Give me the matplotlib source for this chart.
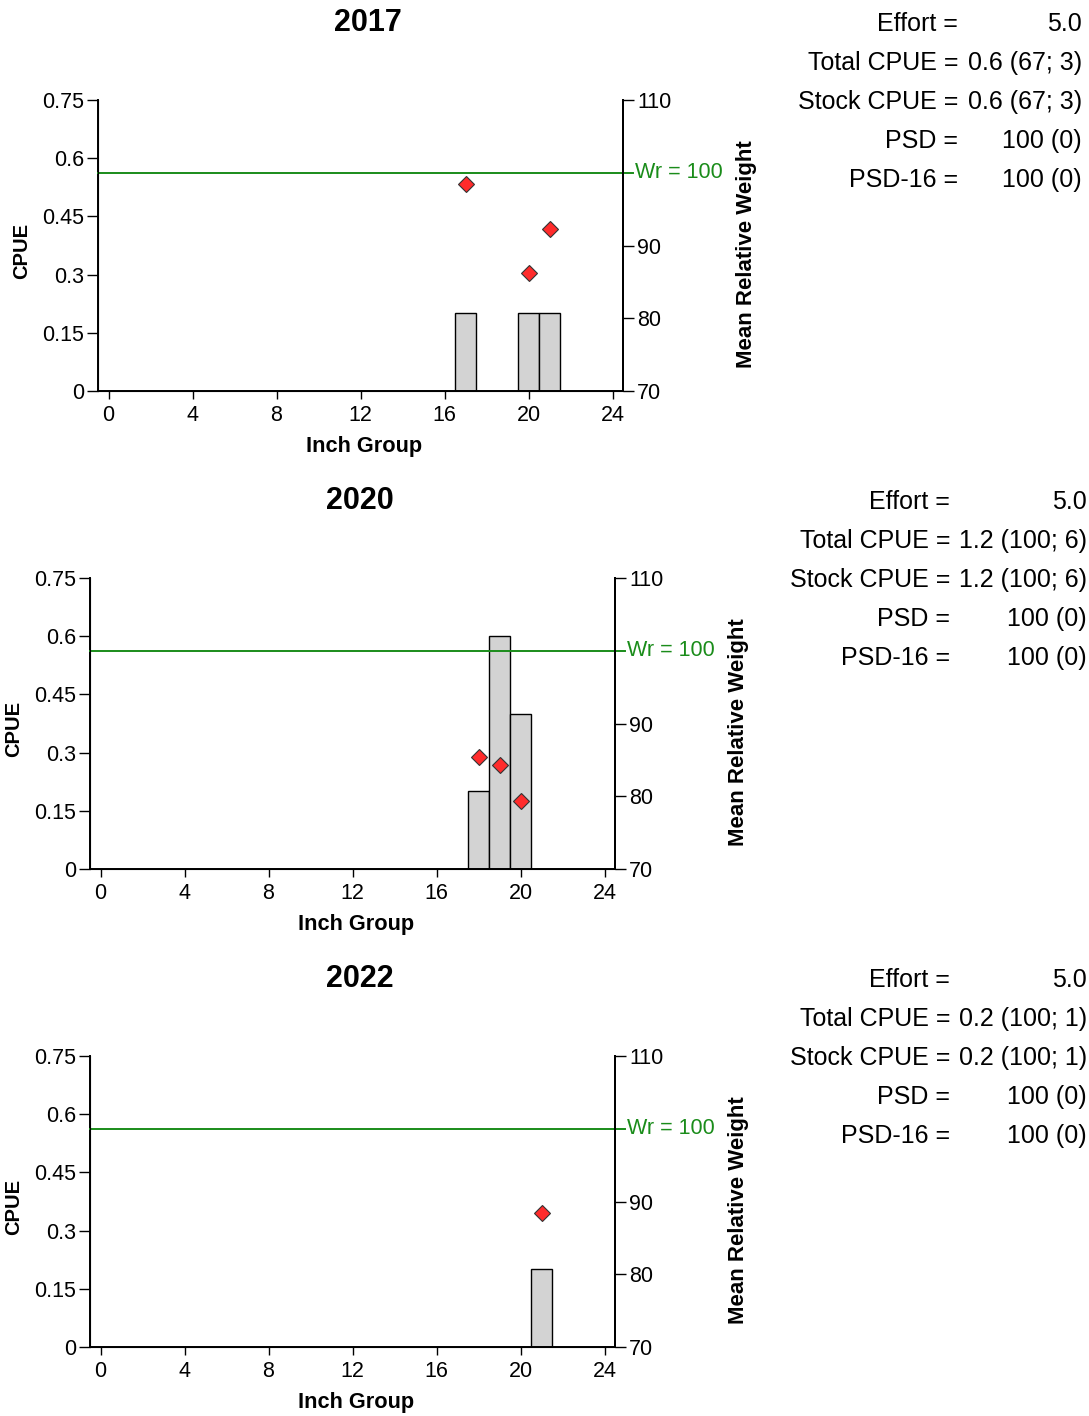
import matplotlib.pyplot as plt

plt.rcParams['font.family'] = ['Liberation Sans', 'DejaVu Sans']

# data
years = ["2017", "2020", "2022"]
bar_inch = [[17, 20, 21], [18, 19, 20], [21]]
bar_cpue = [[0.2, 0.2, 0.2], [0.2, 0.6, 0.4], [0.2]]
wr_inch = [[17, 20, 21], [18, 19, 20], [21]]
wr_mean = [[98.5, 86.2, 92.3], [85.4, 84.3, 79.3], [88.4]]

stat_labels = ["Effort =", "Total CPUE =", "Stock CPUE =", "PSD =", "PSD-16 ="]
stat_values = [
    ["5.0", "0.6 (67; 3)", "0.6 (67; 3)", "100 (0)", "100 (0)"],
    ["5.0", "1.2 (100; 6)", "1.2 (100; 6)", "100 (0)", "100 (0)"],
    ["5.0", "0.2 (100; 1)", "0.2 (100; 1)", "100 (0)", "100 (0)"],
]

cpue_ticks = [0, 0.15, 0.3, 0.45, 0.6, 0.75]
cpue_ticklabels = ["0", "0.15", "0.3", "0.45", "0.6", "0.75"]
wr_ticks = [70, 80, 90, 110]
inch_ticks = [0, 4, 8, 12, 16, 20, 24]
wr_target = 100

W, H = 1089, 1416
fig = plt.figure(figsize=(W / 100, H / 100), dpi=100)

# pixel layout for each panel: axes left, top; title; stats columns
panel_left = [98, 90, 90]
panel_top = [100, 578, 1056]
title_x = [368, 360, 360]
title_y = [23, 501, 979]
lab_x = [958, 950, 950]
val_x = [1082, 1087, 1087]
ax_w, ax_h = 525, 291
green = '#1a8c1a'

for i, yr in enumerate(years):
    left = panel_left[i] / W
    bottom = 1 - (panel_top[i] + ax_h) / H
    ax = fig.add_axes([left, bottom, ax_w / W, ax_h / H])
    ax.bar(bar_inch[i], bar_cpue[i], width=1.0, color='#d3d3d3',
           edgecolor='black', linewidth=1.0, zorder=2)
    ax.set_xlim(-0.5, 24.5)
    ax.set_ylim(0, 0.75)
    ax.set_xticks(inch_ticks)
    ax.set_yticks(cpue_ticks)
    ax.set_yticklabels(cpue_ticklabels)
    ax.spines['top'].set_visible(False)
    for s in ['left', 'bottom', 'right']:
        ax.spines[s].set_linewidth(1.4)
    ax.tick_params(axis='y', length=8, width=1, labelsize=15.5, pad=2)
    ax.tick_params(axis='x', length=6, width=1, labelsize=15.5, pad=4)
    ax.set_xlabel("Inch Group", fontsize=15.7, fontweight='bold')
    ax.xaxis.set_label_coords(0.507, -0.155)
    ax.set_ylabel("CPUE", fontsize=14.5, fontweight='bold')
    ax.yaxis.set_label_coords(-0.128, 0.482)

    ax2 = ax.twinx()
    ax2.set_ylim(70, 110)
    ax2.set_yticks(wr_ticks)
    ax2.spines['top'].set_visible(False)
    ax2.spines['right'].set_linewidth(1.4)
    ax2.tick_params(axis='y', length=8, width=1, labelsize=15.5, pad=2)
    ax2.set_ylabel("Mean Relative Weight", fontsize=16, fontweight='bold')
    ax2.yaxis.set_label_coords(1.215, 0.47)

    ax2.plot([0, 1 + 10 / ax_w], [wr_target, wr_target], color=green,
             linewidth=1.4, transform=ax2.get_yaxis_transform(), clip_on=False)
    ax2.text(1 + 12 / ax_w, wr_target, "Wr = %d" % wr_target, color=green,
             fontsize=15.5, va='center', ha='left',
             transform=ax2.get_yaxis_transform())
    ax2.plot(wr_inch[i], wr_mean[i], 'D', color='#ff2b2b',
             markeredgecolor='#333333', markeredgewidth=0.8, markersize=8.6,
             zorder=3)

    fig.text(title_x[i] / W, 1 - title_y[i] / H, yr, fontsize=22,
             fontweight='bold', ha='center', va='center')
    for j, (lab, val) in enumerate(zip(stat_labels, stat_values[i])):
        yy = 1 - (title_y[i] + 1 + 39 * j) / H
        fig.text(lab_x[i] / W, yy, lab, fontsize=18, ha='right', va='center')
        fig.text(val_x[i] / W, yy, val, fontsize=18, ha='right', va='center')

fig.savefig("out.png", dpi=100)
